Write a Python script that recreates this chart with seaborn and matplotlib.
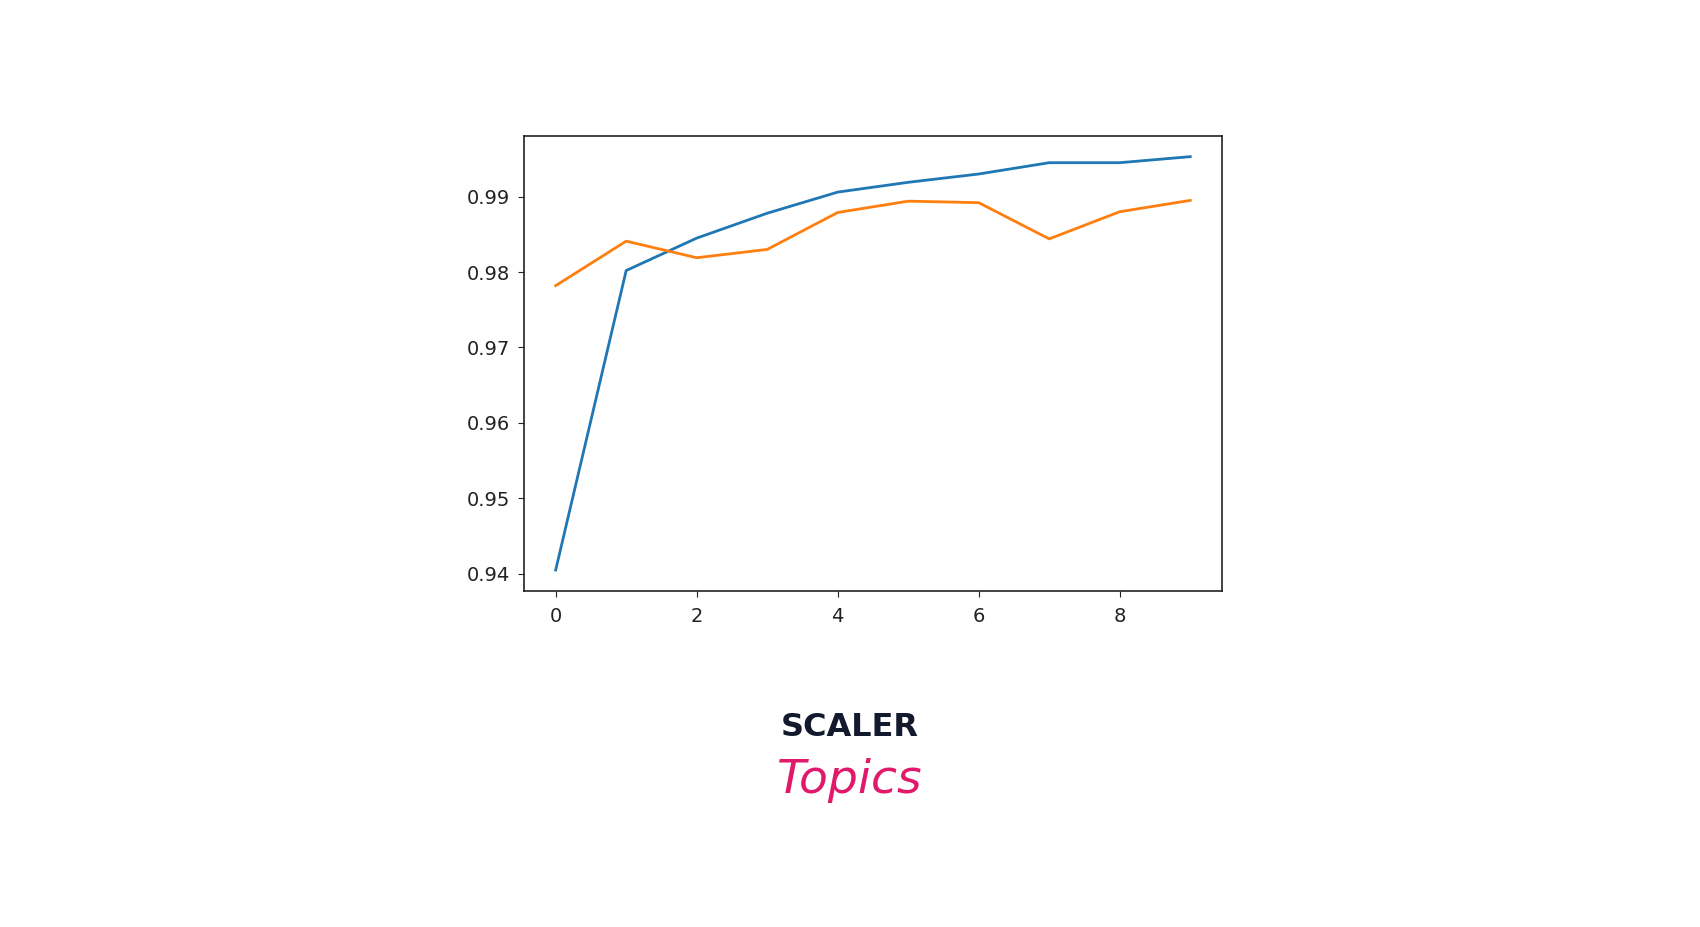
import numpy as np
import pandas as pd
import matplotlib
matplotlib.use("Agg")
import matplotlib.pyplot as plt
import seaborn as sns

# values
epochs = list(range(10))
train_acc = [0.9405, 0.9802, 0.9845, 0.9878, 0.9906, 0.9919, 0.9930, 0.9945, 0.9945, 0.9953]
val_acc = [0.9782, 0.9841, 0.9819, 0.9830, 0.9879, 0.9894, 0.9892, 0.9844, 0.9880, 0.9895]
y_ticks = [0.94, 0.95, 0.96, 0.97, 0.98, 0.99]
x_ticks = [0, 2, 4, 6, 8]

df = pd.DataFrame({"epoch": epochs, "train": train_acc, "val": val_acc})

fig = plt.figure(figsize=(17, 9.27), dpi=100)
ax = fig.add_axes([0.3082, 0.3628, 0.4106, 0.4905])

sns.lineplot(data=df, x="epoch", y="train", ax=ax, color="#1f77b4", linewidth=2)
sns.lineplot(data=df, x="epoch", y="val", ax=ax, color="#ff7f0e", linewidth=2)

ax.set_xticks(x_ticks)
ax.set_yticks(y_ticks)
ax.set_yticklabels([f"{t:.2f}" for t in y_ticks])
ax.set_xlabel("")
ax.set_ylabel("")
ax.tick_params(labelsize=14, colors="#222222", length=4)
ax.tick_params(axis="x", pad=8)
ax.tick_params(axis="y", pad=6)
for s in ax.spines.values():
    s.set_color("#222222")
    s.set_linewidth(1.2)

# logo text under the chart
fig.text(0.5, 0.215, "SCALER", ha="center", va="center", fontsize=23,
         fontweight="bold", color="#141a2e", family="DejaVu Sans")
fig.text(0.5, 0.158, "Topics", ha="center", va="center", fontsize=34,
         style="italic", color="#e0196b", family="DejaVu Sans")

fig.savefig("out.png", dpi=100, facecolor="white")
